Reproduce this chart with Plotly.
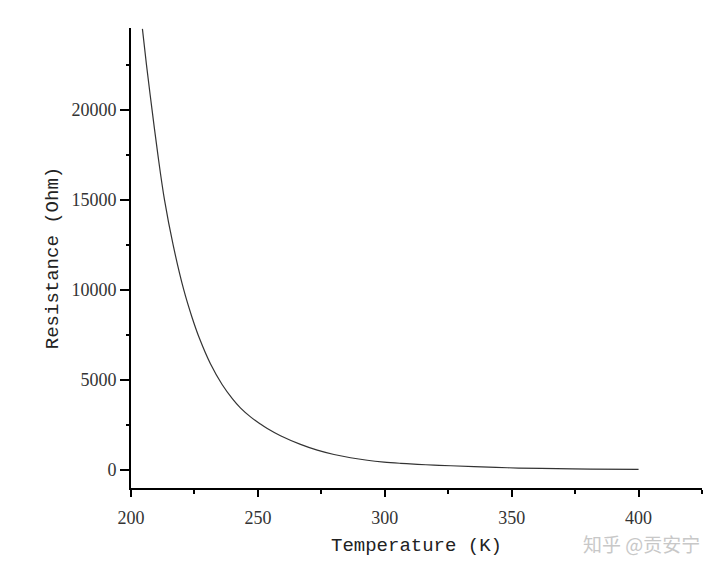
import plotly.graph_objects as go

# Values
temperature_k = [204.5, 206.1, 208.3, 210.6, 213.2, 216.6, 220.8, 224.0, 227.0, 231.3,
                 235.9, 240.0, 243.1, 247.1, 251.0, 253.7, 258.9, 266.8, 273.4, 280.0,
                 286.5, 293.1, 299.7, 306.3, 312.9, 319.4, 326.0, 335.2, 348.4, 361.5,
                 381.2, 400.0]
resistance_ohm = [24500, 22500, 20000, 17500, 15000, 12500, 10000, 8500, 7300, 5900,
                  4750, 3950, 3450, 2950, 2550, 2300, 1900, 1420, 1100, 860,
                  680, 540, 440, 370, 315, 270, 235, 190, 125, 85,
                  50, 30]

x_ticks = [200, 250, 300, 350, 400]
y_ticks = [0, 5000, 10000, 15000, 20000]

fig = go.Figure()
fig.add_trace(go.Scatter(
    x=temperature_k, y=resistance_ohm, mode="lines",
    line=dict(color="#333333", width=1.2, shape="spline", smoothing=1.0),
    showlegend=False, hoverinfo="skip"))

axis_common = dict(
    showgrid=False, zeroline=False, showline=True, linecolor="black",
    ticks="outside", tickcolor="black", tickwidth=1.5, mirror=False,
    automargin=False,
    tickfont=dict(family="Liberation Serif", size=18, color="#333333"),
)

fig.update_xaxes(
    range=[200, 425], tickvals=x_ticks, ticktext=[str(v) for v in x_ticks],
    linewidth=1.5, ticklen=7, ticklabelstandoff=6,
    minor=dict(dtick=25, tick0=200, ticks="outside", ticklen=4, tickcolor="black", tickwidth=1.5),
    title=dict(text="Temperature (K)", standoff=10,
               font=dict(family="Liberation Mono", size=19, color="#222222")),
    **axis_common)
fig.update_yaxes(
    range=[-1000, 24550], tickvals=y_ticks, ticktext=[str(v) for v in y_ticks],
    linewidth=2, ticklen=9,
    minor=dict(dtick=2500, tick0=0, ticks="outside", ticklen=3, tickcolor="black", tickwidth=1.5),
    title=dict(text="Resistance (Ohm)", standoff=8,
               font=dict(family="Liberation Mono", size=19, color="#222222")),
    **axis_common)

fig.add_annotation(
    text="知乎 @贡安宁", xref="paper", yref="paper", x=1.0, y=-0.12,
    xanchor="right", yanchor="middle", showarrow=False,
    font=dict(family="Noto Sans CJK SC", size=19, color="#c8c8c8"))

# page body has an 8px margin, so the figure is 8px smaller and offset by it
fig.update_layout(
    width=712, height=555,
    margin=dict(l=123, r=18, t=20, b=75),
    paper_bgcolor="white", plot_bgcolor="white",
)

fig.write_html("out.html")
